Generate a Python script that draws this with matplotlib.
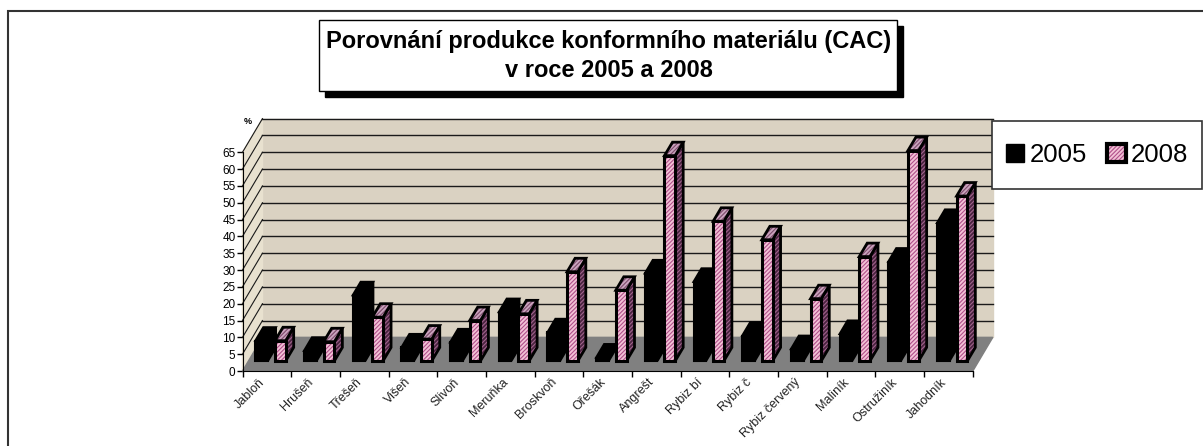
import matplotlib
matplotlib.use("Agg")
import matplotlib.pyplot as plt
from matplotlib.patches import Rectangle, Patch
from matplotlib.legend_handler import HandlerTuple

plt.rcParams["font.family"] = ["Liberation Sans", "DejaVu Sans"]
plt.rcParams["hatch.linewidth"] = 0.8

# data
categories = ["Jabloň", "Hrušeň", "Třešeň", "Višeň", "Slivoň", "Meruňka", "Broskvoň",
              "Ořešák", "Angrešt", "Rybiz bí", "Rybiz č", "Rybiz červený", "Maliník",
              "Ostružiník", "Jahodník"]
vals_2005 = [6, 3, 19.5, 4, 5.5, 14.5, 8.5, 1, 26, 23.5, 7.5, 3.5, 8, 29.5, 41]
vals_2008 = [6, 5.7, 13, 6.5, 12, 14, 26.5, 21, 61, 41.5, 36, 18.5, 31, 62.5, 49]
y_ticks = list(range(0, 70, 5))

W, H, DPI = 1203, 446, 100
fig = plt.figure(figsize=(W / DPI, H / DPI), dpi=DPI)

# pixel <-> data mapping of the reference: x 0 -> 242.5px, 1 category = 48.69px;
# y 0 -> 371px, 1 unit = 3.365px
X0, SX, Y0, SY = 242.5, 48.69, 371.0, 3.365
ax = fig.add_axes([0, 0, 1, 1])
ax.set_xlim(-X0 / SX, (W - X0) / SX)
ax.set_ylim((Y0 - H) / SY, Y0 / SY)
ax.patch.set_alpha(0)

n = len(categories)
DX, DY = 0.41, 10.0          # depth of the plot box (data units)
TOP = 65
wall = "#dad2c2"

# back wall, left wall, floor
ax.fill([DX, n + DX, n + DX, DX], [DY, DY, DY + TOP, DY + TOP], color=wall, zorder=1)
ax.fill([0, DX, DX, 0], [0, DY, DY + TOP, TOP], color="#e8e1cf", zorder=1)
for v in y_ticks[1:]:
    ax.plot([DX, n + DX], [DY + v, DY + v], color="#1a1a1a", lw=1, zorder=2)
    ax.plot([0, DX], [v, DY + v], color="#1a1a1a", lw=0.8, zorder=2)
ax.fill([0, n, n + DX, DX], [0, 0, DY, DY], color="#808080", zorder=2)

# bars (pseudo 3d)
f0, f1 = 0.30, 0.70
base = f0 * DY
sx = f0 * DX
cdx, cdy = (f1 - f0) * DX, (f1 - f0) * DY
pink, hatch_c = "#f3c2d6", "#b0508a"


def draw_bar(x, v, kind, z, bw):
    x = x + sx
    top = base + v
    side_x = [x + bw, x + bw + cdx, x + bw + cdx, x + bw]
    side_y = [base, base + cdy, top + cdy, top]
    cap_x = [x, x + bw, x + bw + cdx, x + cdx]
    cap_y = [top, top, top + cdy, top + cdy]
    if kind == "black":
        ax.fill(side_x, side_y, color="black", lw=1.5, zorder=z)
        ax.fill(cap_x, cap_y, color="black", lw=1.5, zorder=z)
        ax.bar(x, v, bottom=base, width=bw, align="edge", color="black",
               edgecolor="black", lw=1.5, zorder=z)
    else:
        ax.fill(side_x, side_y, facecolor="#4a2440", edgecolor="#a0628c", hatch="////////", lw=0, zorder=z)
        ax.fill(side_x, side_y, fill=False, edgecolor="black", lw=2, zorder=z)
        ax.fill(cap_x, cap_y, facecolor="#c9a3bd", edgecolor="#7e4b6c", hatch="////////", lw=0, zorder=z)
        ax.fill(cap_x, cap_y, fill=False, edgecolor="black", lw=2, zorder=z)
        ax.bar(x, v, bottom=base, width=bw, align="edge", color=pink, edgecolor=hatch_c,
               hatch="////////", lw=0, zorder=z)
        ax.bar(x, v, bottom=base, width=bw, align="edge", fill=False, edgecolor="black",
               lw=2.2, zorder=z)


for i in range(n):
    draw_bar(i + 0.14, vals_2005[i], "black", 3 + i * 0.01, 0.26)
    draw_bar(i + 0.544, vals_2008[i], "pink", 3.005 + i * 0.01, 0.22)

# axes: front value axis and category axis
for s in ["top", "right"]:
    ax.spines[s].set_visible(False)
ax.spines["left"].set_position(("data", 0))
ax.spines["bottom"].set_position(("data", 0))
ax.spines["left"].set_bounds(0, TOP)
ax.spines["bottom"].set_bounds(0, n)
ax.spines["left"].set_zorder(5)
ax.spines["bottom"].set_zorder(5)
ax.set_yticks(y_ticks)
ax.set_yticklabels([str(t) for t in y_ticks], fontsize=8.5)
ax.set_xticks(range(n + 1))
ax.set_xticklabels([])
ax.tick_params(axis="both", direction="out", length=4, width=1, pad=1)

for i, lab in enumerate(categories):
    ax.text(i + 0.5 - 8 / SX, -5 / SY, lab, rotation=45, rotation_mode="anchor",
            ha="right", va="top", fontsize=9, color="#222222")


def fx(px):
    return px / W


def fy(py):
    return 1 - py / H


# outer chart border
fig.patches.append(Rectangle((fx(8), fy(460)), fx(1230) - fx(8), fy(11) - fy(460),
                             transform=fig.transFigure, fill=False, edgecolor="#333333", lw=1.5))

# title box with drop shadow
fig.patches.append(Rectangle((fx(325), fy(97)), fx(903) - fx(325), fy(26) - fy(97),
                             transform=fig.transFigure, color="black", zorder=6))
fig.patches.append(Rectangle((fx(319), fy(91)), fx(897) - fx(319), fy(20) - fy(91),
                             transform=fig.transFigure, facecolor="white", edgecolor="black",
                             lw=1, zorder=7))
fig.text(fx(609), fy(56), "Porovnání produkce konformního materiálu (CAC)\nv roce 2005 a 2008",
         ha="center", va="center", fontsize=17, fontweight="bold", linespacing=1.3, zorder=8)

fig.text(fx(248), fy(121), "%", fontsize=6.5, fontweight="bold", ha="center", va="center")

# legend: frame drawn as its own box, entries centred in it
fig.patches.append(Rectangle((fx(992), fy(189)), fx(1202) - fx(992), fy(121) - fy(189),
                             transform=fig.transFigure, facecolor="white", edgecolor="#333333",
                             lw=1.2, zorder=6))
h05 = Patch(facecolor="black", edgecolor="black")
h08 = (Patch(facecolor=pink, edgecolor=hatch_c, hatch="////////", lw=0),
       Patch(facecolor="none", edgecolor="black", lw=3))
leg = fig.legend([h05, h08], ["2005", "2008"], loc="center",
                 bbox_to_anchor=(fx(1097), fy(155)), ncol=2, fontsize=18.5, frameon=False,
                 handlelength=0.72, handleheight=0.72, handletextpad=0.2,
                 columnspacing=0.8, borderpad=0, borderaxespad=0,
                 handler_map={tuple: HandlerTuple(ndivide=1, pad=0)})
leg.set_zorder(7)

fig.savefig("out.png", dpi=DPI)
